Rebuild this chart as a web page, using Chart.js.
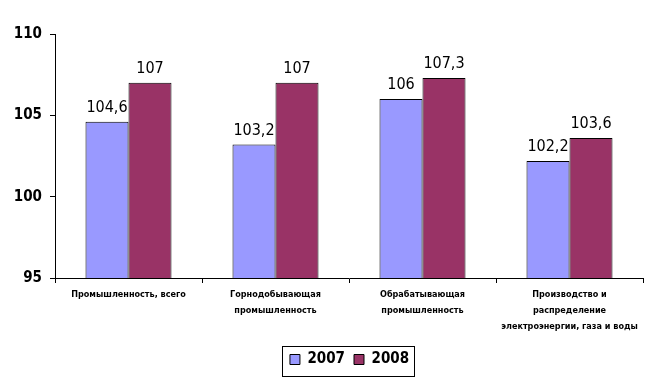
<!DOCTYPE html>
<html>
<head>
<meta charset="utf-8">
<script src="https://cdn.jsdelivr.net/npm/chart.js@4.4.1/dist/chart.umd.min.js"></script>
<style>
  html, body { margin: 0; padding: 0; background: #fff; }
  #wrap { width: 657px; height: 388px; }
</style>
</head>
<body>
<div id="wrap"><canvas id="industryChart" width="657" height="388"></canvas></div>
<script>
// values
const categories = [
    'Промышленность, всего',
    ['Горнодобывающая', 'промышленность'],
    ['Обрабатывающая', 'промышленность'],
    ['Производство и', 'распределение', 'электроэнергии, газа и воды']
];
const values2007 = [104.6, 103.2, 106, 102.2];
const values2008 = [107, 107, 107.3, 103.6];
const yTicks = [95, 100, 105, 110];

const boldNarrow = '"Liberation Sans Narrow", "DejaVu Sans Condensed", "Liberation Sans", sans-serif';
const labelFont = '"DejaVu Sans Condensed", "DejaVu Sans", sans-serif';

// value labels above bars (comma as decimal separator)
const barValues = {
    id: 'barValues',
    afterDatasetsDraw(chart) {
        const ctx = chart.ctx;
        ctx.save();
        ctx.font = '16px ' + labelFont;
        ctx.fillStyle = '#000';
        ctx.textAlign = 'center';
        ctx.textBaseline = 'bottom';
        chart.data.datasets.forEach((ds, i) => {
            chart.getDatasetMeta(i).data.forEach((bar, j) => {
                const txt = String(ds.data[j]).replace('.', ',');
                ctx.fillText(txt, bar.x, bar.y - 6);
            });
        });
        ctx.restore();
    }
};

// legend sits a bit right of centre in the original
const legendShift = {
    id: 'legendShift',
    afterLayout(chart) {
        chart.legend.left += 28;
        chart.legend.right += 28;
    }
};

// frame round the legend
const legendFrame = {
    id: 'legendFrame',
    afterDraw(chart) {
        const boxes = chart.legend.legendHitBoxes;
        if (!boxes || !boxes.length) return;
        let left = Infinity, right = -Infinity, top = Infinity, bottom = -Infinity;
        boxes.forEach(b => {
            left = Math.min(left, b.left);
            right = Math.max(right, b.left + b.width);
            top = Math.min(top, b.top);
            bottom = Math.max(bottom, b.top + b.height);
        });
        const ctx = chart.ctx;
        ctx.save();
        ctx.strokeStyle = '#000';
        ctx.lineWidth = 1;
        ctx.strokeRect(Math.round(left - 8) + 0.5, Math.round(top - 6) + 0.5,
            Math.round(right - left + 13), Math.round(bottom - top + 15));
        ctx.restore();
    }
};

let ctx = document.getElementById('industryChart').getContext('2d');
new Chart(ctx, {
    type: 'bar',
    data: {
        labels: categories,
        datasets: [{
            label: '2007',
            data: values2007,
            backgroundColor: '#9999FF',
            borderColor: '#000',
            borderWidth: 1,
            borderSkipped: false
        },
        {
            label: '2008',
            data: values2008,
            backgroundColor: '#993366',
            borderColor: '#000',
            borderWidth: 1,
            borderSkipped: false
        }]
    },
    options: {
        responsive: false,
        animation: false,
        layout: {
            padding: { left: 0, right: 14, top: 34, bottom: 11 }
        },
        datasets: {
            bar: { categoryPercentage: 0.585, barPercentage: 1 }
        },
        scales: {
            x: {
                grid: {
                    offset: true,
                    drawOnChartArea: false,
                    drawTicks: true,
                    tickLength: 5,
                    color: '#000'
                },
                border: { color: '#000', width: 1 },
                ticks: {
                    color: '#000',
                    maxRotation: 0,
                    autoSkip: false,
                    padding: 4,
                    font: { family: boldNarrow, size: 9, weight: 'bold', lineHeight: 1.75 }
                },
                afterFit: function(scale) { scale.height = 65; }
            },
            y: {
                min: 95,
                max: 110,
                afterBuildTicks: function(scale) {
                    scale.ticks = yTicks.map(v => ({ value: v }));
                },
                grid: {
                    drawOnChartArea: false,
                    drawTicks: true,
                    tickLength: 5,
                    color: '#000'
                },
                border: { color: '#000', width: 1 },
                ticks: {
                    color: '#000',
                    padding: 8,
                    font: { family: boldNarrow, size: 15, weight: 'bold' }
                },
                afterFit: function(scale) { scale.width = 55; }
            }
        },
        plugins: {
            legend: {
                position: 'bottom',
                labels: {
                    color: '#000',
                    boxWidth: 10,
                    boxHeight: 10,
                    padding: 9,
                    font: { family: boldNarrow, size: 15, weight: 'bold' },
                    generateLabels: function(chart) {
                        return chart.data.datasets.map((ds, i) => ({
                            text: ds.label,
                            fillStyle: ds.backgroundColor,
                            strokeStyle: '#000',
                            lineWidth: 1,
                            datasetIndex: i
                        }));
                    }
                }
            },
            tooltip: { enabled: false }
        }
    },
    plugins: [barValues, legendShift, legendFrame]
});
</script>
</body>
</html>
